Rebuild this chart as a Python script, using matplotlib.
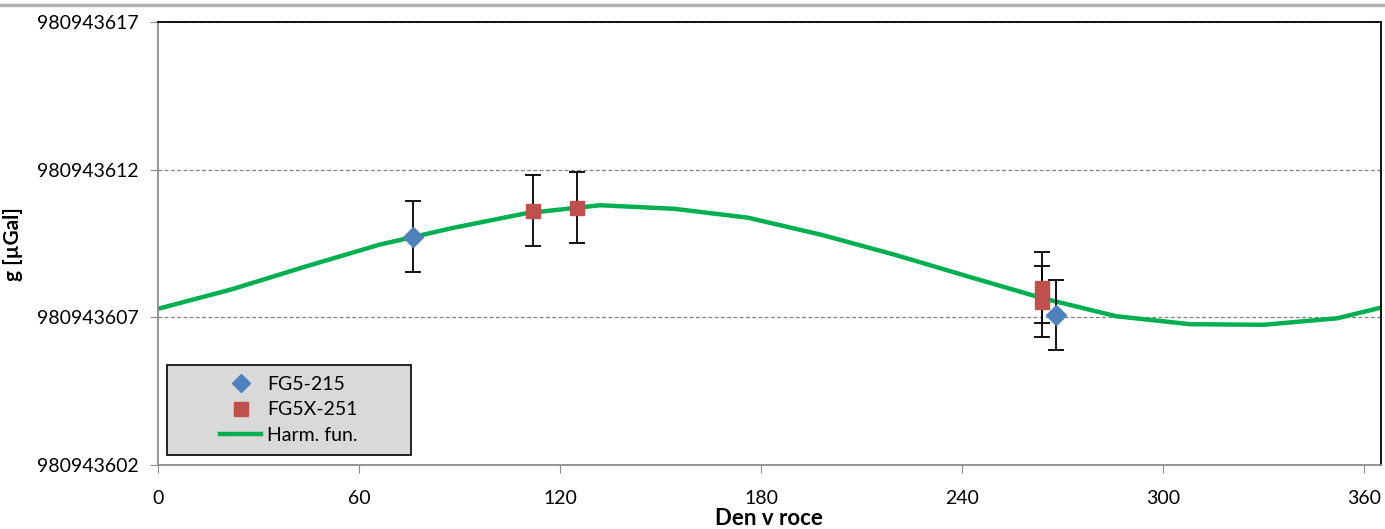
import numpy as np
import matplotlib.pyplot as plt
from matplotlib.lines import Line2D
from matplotlib.patches import Rectangle

plt.rcParams['font.family'] = ['Lato', 'DejaVu Sans']

# FG5-215 measurements
fg5_day = [76, 268]
fg5_g = [980943609.73, 980943607.08]
fg5_err = [1.2, 1.2]

# FG5X-251 measurements
fg5x_day = [112, 125, 264, 264]
fg5x_g = [980943610.61, 980943610.71, 980943608.0, 980943607.53]
fg5x_err = [1.2, 1.2, 1.2, 1.2]

# harmonic function
harm_day = [0, 22, 44, 66, 88, 110, 132, 154, 176, 198, 220, 242, 264,
            286, 308, 330, 352, 365]
harm_g = [980943607.29, 980943607.95, 980943608.72, 980943609.46,
          980943610.03, 980943610.53, 980943610.80, 980943610.68,
          980943610.38, 980943609.80, 980943609.12, 980943608.38,
          980943607.65, 980943607.04, 980943606.77, 980943606.75,
          980943606.97, 980943607.33]

yticks = [980943602, 980943607, 980943612, 980943617]
xticks = [0, 60, 120, 180, 240, 300, 360]

blue = '#4f81bd'
red = '#c0504d'
green = '#00b050'

fig = plt.figure(figsize=(13.85, 5.29), dpi=100)
ax = fig.add_axes([0.114, 0.121, 0.883, 0.837])

ax.plot(harm_day, harm_g, color=green, lw=3.2, zorder=2)
ax.errorbar(fg5_day, fg5_g, yerr=fg5_err, fmt='D', color=blue, ms=10,
            ecolor='black', elinewidth=1.3, capsize=6, capthick=1.3, zorder=3)
ax.errorbar(fg5x_day, fg5x_g, yerr=fg5x_err, fmt='s', color=red, ms=10,
            ecolor='black', elinewidth=1.3, capsize=6, capthick=1.3, zorder=3)

ax.set_xlim(0, 365)
ax.set_ylim(yticks[0], yticks[-1])
ax.set_xticks(xticks)
ax.set_yticks(yticks)
ax.set_yticklabels([str(v) for v in yticks])
ax.tick_params(direction='out', length=6, color='#8c8c8c', labelsize=14,
               pad=8)
ax.tick_params(axis='x', pad=12)

for v in yticks[1:-1]:
    ax.axhline(v, color='#808080', lw=0.9, ls=(0, (3, 2)), zorder=1)
ax.axhline(yticks[-1], color='#404040', lw=1.2, ls=(0, (3, 2)), zorder=1)

ax.spines['left'].set_color('#8c8c8c')
ax.spines['bottom'].set_color('#8c8c8c')
ax.spines['right'].set_color('black')
ax.spines['top'].set_color('black')
for s in ax.spines.values():
    s.set_linewidth(1.3)

ax.set_xlabel('Den v roce', fontsize=16, fontweight='bold', labelpad=1)
ax.set_ylabel('g [µGal]', fontsize=15, fontweight='bold', labelpad=10)

# legend: grey box drawn separately so it can be wider than its content
fig.add_artist(Rectangle((167 / 1385, 1 - 455 / 529), 244 / 1385, 90 / 529,
                         transform=fig.transFigure, facecolor='#d9d9d9',
                         edgecolor='black', lw=1.2, zorder=5))
handles = [Line2D([], [], ls='none', marker='D', color=blue, ms=9),
           Line2D([], [], ls='none', marker='s', color=red, ms=10),
           Line2D([], [], color=green, lw=3.2)]
leg = fig.legend(handles, ['FG5-215', 'FG5X-251', 'Harm. fun.'],
                 loc='center', bbox_to_anchor=(0.2087, 0.225), fontsize=14,
                 frameon=False, handlelength=2.1, handletextpad=0.3,
                 labelspacing=0.45)
leg.set_zorder(6)

# chart area border line at the top
fig.add_artist(Line2D([0, 1], [0.99, 0.99], transform=fig.transFigure,
                      color='#b0b0b0', lw=2.5))

fig.savefig('out.png', dpi=100)
